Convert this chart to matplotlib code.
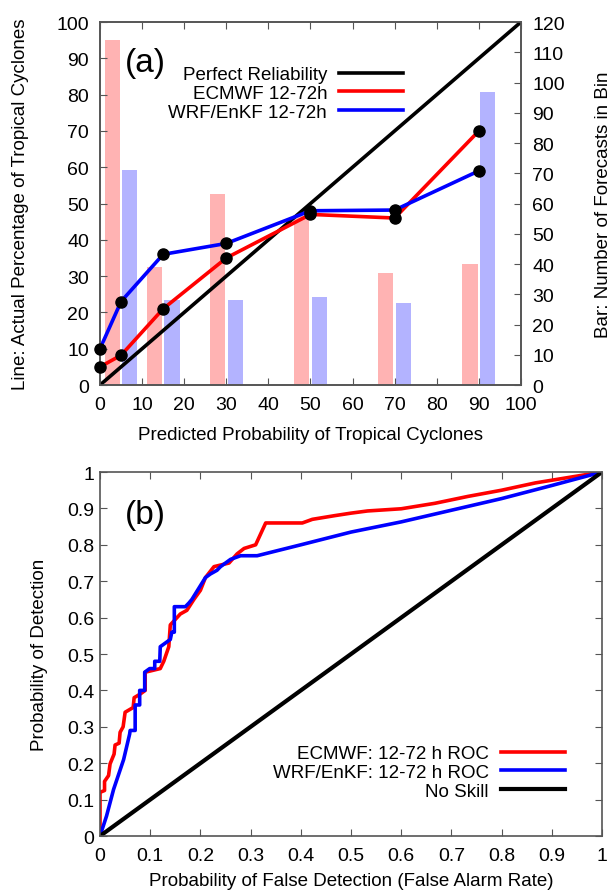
import numpy as np
import matplotlib.pyplot as plt
from matplotlib.ticker import FormatStrFormatter

plt.rcParams['font.family'] = ['Liberation Sans', 'DejaVu Sans']
plt.rcParams['font.size'] = 13.5

# (a) reliability diagram
prob = [0, 5, 15, 30, 50, 70, 90]
ecmwf_rel = [5, 8.2, 21, 35, 47, 46, 70]
wrf_rel = [10, 23, 36, 39, 48, 48.2, 59]

bin_centers = [5, 15, 30, 50, 70, 90]
ecmwf_count = [114, 39, 63, 56, 37, 40]
wrf_count = [71, 28, 28, 29, 27, 97]

# (b) ROC curves
ecmwf_far = [0, 0, 0.009, 0.009, 0.017, 0.02, 0.028, 0.03, 0.038, 0.04, 0.046, 0.05,
             0.066, 0.068, 0.08, 0.09, 0.09, 0.12, 0.127, 0.137, 0.14, 0.16, 0.173,
             0.187, 0.2, 0.21, 0.227, 0.257, 0.273, 0.287, 0.31, 0.33, 0.403, 0.423,
             0.467, 0.5, 0.533, 0.6, 0.667, 0.733, 0.8, 0.867, 1.0]
ecmwf_pod = [0, 0.12, 0.125, 0.15, 0.166, 0.198, 0.225, 0.25, 0.255, 0.285, 0.30, 0.34,
             0.353, 0.38, 0.39, 0.40, 0.45, 0.46, 0.48, 0.52, 0.58, 0.61, 0.62,
             0.65, 0.675, 0.71, 0.74, 0.75, 0.775, 0.79, 0.80, 0.86, 0.86, 0.87,
             0.88, 0.887, 0.893, 0.899, 0.914, 0.933, 0.95, 0.97, 1.0]
wrf_far = [0, 0.013, 0.027, 0.047, 0.059, 0.06, 0.07, 0.07, 0.079, 0.079, 0.089, 0.089,
           0.099, 0.109, 0.109, 0.119, 0.12, 0.13, 0.14, 0.143, 0.148, 0.148, 0.17,
           0.177, 0.183, 0.21, 0.22, 0.233, 0.24, 0.26, 0.28, 0.313, 0.4, 0.5, 0.6,
           0.7, 0.8, 0.9, 1.0]
wrf_pod = [0, 0.055, 0.128, 0.21, 0.28, 0.29, 0.29, 0.36, 0.36, 0.40, 0.40, 0.45,
           0.46, 0.46, 0.48, 0.48, 0.52, 0.53, 0.54, 0.56, 0.56, 0.63, 0.63,
           0.64, 0.65, 0.71, 0.72, 0.73, 0.74, 0.76, 0.77, 0.77, 0.80, 0.835, 0.863,
           0.895, 0.927, 0.963, 1.0]

spine_col = '#555555'
lw = 2.6
tick_fs = 14

fig = plt.figure(figsize=(6.14, 8.95), dpi=100)

# ---- panel (a)
ax = fig.add_axes([0.1629, 0.5687, 0.6856, 0.4056])
ax2 = ax.twinx()
ax.set_zorder(ax2.get_zorder() + 1)
ax.patch.set_visible(False)

bc = np.array(bin_centers)
ax2.bar(bc - 2.1, ecmwf_count, width=3.6, color='#ffb3b3', linewidth=0)
ax2.bar(bc + 2.1, wrf_count, width=3.6, color='#b3b3ff', linewidth=0)
ax2.set_ylim(0, 120)
ax2.set_yticks(range(0, 121, 10))
ax2.set_ylabel('Bar: Number of Forecasts in Bin', labelpad=22)

ax.plot([0, 100], [0, 100], color='black', lw=lw, label='Perfect Reliability')
ax.plot(prob, ecmwf_rel, color='red', lw=lw, label='ECMWF 12-72h')
ax.plot(prob, wrf_rel, color='blue', lw=lw, label='WRF/EnKF 12-72h')
ax.plot(prob, ecmwf_rel, 'o', color='black', ms=8, clip_on=False, zorder=5)
ax.plot(prob, wrf_rel, 'o', color='black', ms=8, clip_on=False, zorder=5)
ax.set_xlim(0, 100)
ax.set_ylim(0, 100)
ax.set_xticks(range(0, 101, 10))
ax.set_yticks(range(0, 101, 10))
ax.set_xlabel('Predicted Probability of Tropical Cyclones', labelpad=9)
ax.set_ylabel('Line: Actual Percentage of Tropical Cyclones', labelpad=20)
ax.text(0.06, 0.93, '(a)', transform=ax.transAxes, fontsize=24, va='top')
ax.legend(loc='upper right', bbox_to_anchor=(0.72, 0.878), frameon=False,
          markerfirst=False, handlelength=3.4, handletextpad=0.65,
          labelspacing=0.08, borderpad=0, borderaxespad=0, fontsize=13.5)

ax.tick_params(direction='in', length=5, top=True, color=spine_col, pad=8,
               labelsize=tick_fs)
ax2.tick_params(direction='in', length=5, color=spine_col, pad=8, labelsize=tick_fs)
for a in (ax, ax2):
    for s in a.spines.values():
        s.set_color(spine_col)
        s.set_linewidth(1.2)

# ---- panel (b)
bx = fig.add_axes([0.1629, 0.0648, 0.8176, 0.4067])
bx.plot(ecmwf_far, ecmwf_pod, color='red', lw=lw, label='ECMWF: 12-72 h ROC')
bx.plot(wrf_far, wrf_pod, color='blue', lw=lw, label='WRF/EnKF: 12-72 h ROC')
bx.plot([0, 1], [0, 1], color='black', lw=lw + 0.4, label='No Skill')
bx.set_xlim(0, 1)
bx.set_ylim(0, 1)
bx.set_xticks(np.arange(0, 1.01, 0.1))
bx.set_yticks(np.arange(0, 1.01, 0.1))
bx.xaxis.set_major_formatter(FormatStrFormatter('%g'))
bx.yaxis.set_major_formatter(FormatStrFormatter('%g'))
bx.set_xlabel('Probability of False Detection (False Alarm Rate)', labelpad=6)
bx.set_ylabel('Probability of Detection', labelpad=14)
bx.text(0.05, 0.925, '(b)', transform=bx.transAxes, fontsize=24, va='top')
bx.legend(loc='lower right', bbox_to_anchor=(0.926, 0.1), frameon=False,
          markerfirst=False, handlelength=3.4, handletextpad=0.65,
          labelspacing=0.08, borderpad=0, borderaxespad=0, fontsize=13.5)
bx.tick_params(direction='in', length=5, top=True, right=True, color=spine_col,
               labelsize=tick_fs)
bx.tick_params(axis='x', pad=8)
bx.tick_params(axis='y', pad=4)
for s in bx.spines.values():
    s.set_color(spine_col)
    s.set_linewidth(1.2)

fig.savefig('out.png', dpi=100)
